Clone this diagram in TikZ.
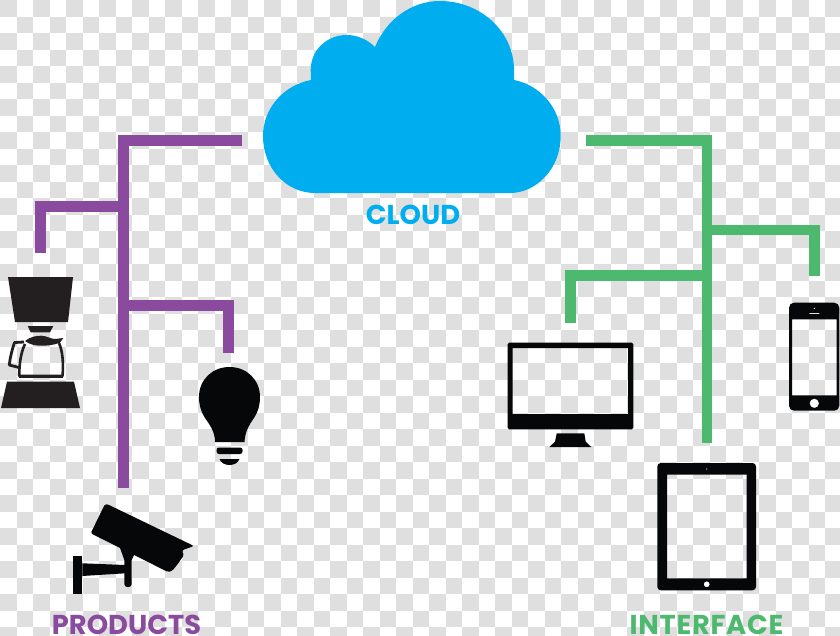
\documentclass[tikz,border=0pt]{standalone}
\usepackage{fontspec}
\setmainfont{Poppins}[BoldFont={Poppins Bold}]
\definecolor{chk}{HTML}{DFDFDF}
\definecolor{purp}{HTML}{8A4B9F}
\definecolor{grn}{HTML}{4DB96F}
\definecolor{sky}{HTML}{00AEEF}
\definecolor{ink}{HTML}{060708}
\definecolor{inkb}{HTML}{231F20}
\tikzset{
  purpline/.style={draw=purp,line width=11pt},
  grnline/.style={draw=grn,line width=10.5pt},
  icon/.style={fill=ink,even odd rule},
  lbl/.style={font=\bfseries\fontsize{27.3}{27.3}\selectfont,inner sep=0pt},
}
\begin{document}
\begin{tikzpicture}[x=1pt,y=-1pt]
\useasboundingbox (0,0) rectangle (840,635);
\begin{scope}
\clip (0,0) rectangle (840,635);
\fill[white] (0,0) rectangle (840,635);
\foreach \i in {0,...,25}{\foreach \j in {0,...,19}{
  \fill[chk] ({33*\i},{33*\j}) rectangle ++(16.5,16.5);
  \fill[chk] ({33*\i+16.5},{33*\j+16.5}) rectangle ++(16.5,16.5);
}}
% cloud
\fill[sky] (315,193) .. controls (286,193) and (263,168) .. (263,136)
  .. controls (263,108) and (284,85) .. (311,80) -- (310.7,70)
  .. controls (310.7,50) and (327,35) .. (346.7,35)
  .. controls (358,35) and (368,40) .. (375,47)
  .. controls (386,20) and (411,1) .. (440,1)
  .. controls (481,1) and (514,32) .. (514,70) -- (514,80)
  .. controls (540,85) and (560.7,108) .. (560.7,136)
  .. controls (560.7,168) and (537,193) .. (510,193) -- cycle;
\node[lbl,text=sky] (cloudlbl) at (413,214.5) {CLOUD};
% named ends
\coordinate (pA) at (242,140.5);
\coordinate (pB) at (123.5,140.5);
\coordinate (pEnd) at (123.5,488);
\coordinate (pL0) at (123.5,206);
\coordinate (pL1) at (40.5,206);
\coordinate (pL2) at (40.5,253);
\coordinate (pR0) at (123.5,305.5);
\coordinate (pR1) at (228.5,305.5);
\coordinate (pR2) at (228.5,353);
\coordinate (gA) at (586,140.5);
\coordinate (gB) at (707,140.5);
\coordinate (gEnd) at (707,443);
\coordinate (gR0) at (707,230);
\coordinate (gR1) at (814.5,230);
\coordinate (gR2) at (814.5,276);
\coordinate (gL0) at (707,275.5);
\coordinate (gL1) at (570.5,275.5);
\coordinate (gL2) at (570.5,323);
\draw[purpline] (pA) -- (pB) -- (pEnd);
\draw[purpline] (pL0) -- (pL1) -- (pL2);
\draw[purpline] (pR0) -- (pR1) -- (pR2);
\draw[grnline] (gA) -- (gB) -- (gEnd);
\draw[grnline] (gR0) -- (gR1) -- (gR2);
\draw[grnline] (gL0) -- (gL1) -- (gL2);
% coffee maker
\fill[inkb] (8,277) -- (73,277) -- (68,322) -- (15,322) -- cycle;
\fill[inkb] (27.7,326) -- (53.3,326) -- (50,332.3) -- (30.7,332.3) -- cycle;
\fill[inkb] (7,381.7) -- (74,381.7) -- (80,408) -- (1,408) -- cycle;
\fill[inkb] (25,341) .. controls (30,337) and (36,335.5) .. (41.7,335.7)
  .. controls (47,336) and (51,339) .. (55,339) -- (63.3,338) -- (60,342.7)
  .. controls (54,345) and (46,346) .. (40,345.7) .. controls (34,345.5) and (29,344) .. (25,341) -- cycle;
\draw[inkb,line width=2.6pt,line join=round] (25,344) .. controls (21,352) and (19,365) .. (19.3,376) -- (62.5,376)
  .. controls (63.5,365) and (63,352) .. (59,343);
\draw[inkb,line width=3pt] (19.3,376.3) -- (62.5,376.3);
\draw[inkb,line width=2.8pt,line join=round] (24,342) -- (14.5,342.5) .. controls (12,350) and (10,358) .. (9.3,365) -- (19,367.5);
% bulb
\fill[ink] (215,442) .. controls (215,432) and (210,425) .. (205,418)
  .. controls (201,412) and (199,405) .. (199,397)
  .. controls (199,380) and (212,367) .. (229.5,367)
  .. controls (247,367) and (260,380) .. (260,397)
  .. controls (260,405) and (258,412) .. (254,418)
  .. controls (249,425) and (245,432) .. (244.5,442) -- cycle;
\fill[ink,rounded corners=2.5pt] (216.5,447.5) rectangle (242.5,454);
\fill[ink] (219.5,459) -- (239.5,459) .. controls (238,463) and (234,465) .. (229.5,465) .. controls (225,465) and (221,463) .. (219.5,459) -- cycle;
% camera
\fill[ink,rounded corners=1.5pt] (90.7,533.3) -- (105,504) -- (108,504.5) -- (194,546) -- (182.7,550) -- (182,551) -- (184,555) -- (177,565) -- (172,571) -- (168,572) -- cycle;
\fill[ink] (119,545) -- (135,553) -- (131.7,560) -- (124.3,560) -- cycle;
\fill[ink,rounded corners=3pt] (124.3,545) rectangle (131.7,587);
\fill[ink] (82.3,563.3) -- (125,565) -- (125,573.3) -- (82.3,576) -- cycle;
\fill[ink] (73.3,555.7) rectangle (82.3,594);
% monitor
\path[icon] [rounded corners=1.5pt] (507.7,342.7) rectangle (633.3,429.3) [sharp corners] (512.7,348) rectangle (628,414);
\fill[ink] (556.7,433.3) -- (584.3,433.3) -- (585.7,441.7) -- (591.3,447) -- (549.3,447) -- (555,441.7) -- cycle;
% phone
\path[icon] [rounded corners=5pt] (789,302.7) rectangle (839.3,410.7) [sharp corners] (792,319.3) rectangle (836.7,395.3)
  (814.3,403.3) circle[radius=4.7] (814.3,308.3) circle[radius=0.9] (809.3,313.2) rectangle (819.3,314.2);
% tablet
\path[icon] [rounded corners=3.5pt] (657.3,463) rectangle (756,590.3) [sharp corners] (667,474.7) rectangle (746.7,578.3)
  (706.7,584.3) circle[radius=3] (706.7,469) circle[radius=0.9];
% labels
\node[lbl,text=purp] (products) at (126.5,625) {PRODUCTS};
\node[lbl,text=grn] (interface) at (706.5,625) {\addfontfeature{LetterSpace=2.6}INTERFACE};
\end{scope}
\end{tikzpicture}
\end{document}
